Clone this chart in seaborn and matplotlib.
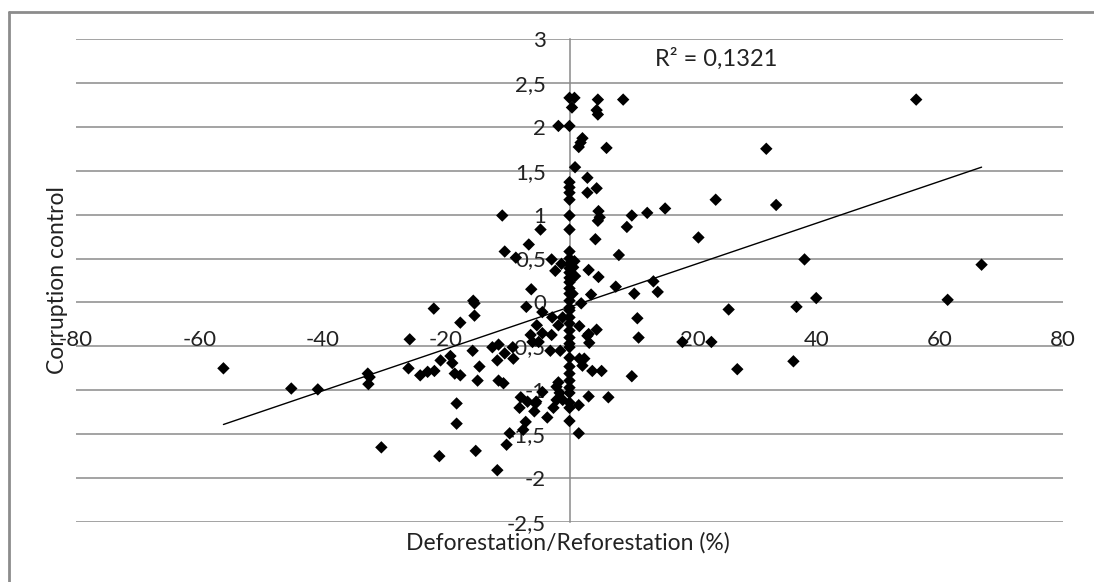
import matplotlib
matplotlib.use("Agg")
import matplotlib.pyplot as plt
import seaborn as sns
import pandas as pd
from matplotlib.lines import Line2D

# ---- data ----
deforestation = [
    0, 0.8, 0.4, 4.6, 4.4, 4.6, 8.7, 56.2,
    -1.8, 0, 2.1, 1.8, 1.5, 6.0, 31.9,
    0.9, 2.9, 0, 0, 0, 2.9, 4.4, 0,
    -10.9, 0, 4.7, 4.6, 4.9, 10.1, 12.6, 15.5, 23.7, 33.5,
    9.3, -4.7, 0, 4.2, 20.9,
    -6.6, -10.5, -8.7, 0, 8.0, 38.1, 66.8,
    -2.9, -1.3, -2.3, 3.1, 4.7,
    0, 0, 0, 0, 0, 0, 0, 0, 0, 0,
    0.8, 0.6, 0.9, 0.5,
    -6.2, 7.5, 13.6, 14.3, 10.5, 3.5, -15.6, 40.0, 61.3,
    25.8, 36.8, 23.0, 27.2, 36.3, 18.3,
    11.0, 11.2, 10.1, 6.3, 3.1, 1.5, 0,
    5.2, 3.7, 2.1, 2.4, 4.4, 3.1, 3.2, 1.6, 1.9, 2.9,
    0, 0, 0, 0, 0, 0, 0, 0, 0, 0, 0, 0, 0, 0, 0,
    -1.1, -1.8, -2.8, -1.1, -1.6, -2.1, -1.8, -2.6, -3.6, -4.4, -5.3, -7.0,
    -4.4, -2.9, -3.1, -1.5, -5.0, -6.0, -6.3, -9.1, -10.5, -11.7, -11.5, -12.5,
    -11.5, -10.7, -7.9, -6.8, -8.1, -5.5, -5.7, -7.1, -7.5, -9.7, -10.2, -11.7,
    -15.2, -21.1, -18.3, -18.3, -14.9, -14.6, -15.7, -17.7, -18.6, -19.0, -19.3,
    -20.9, -17.7, -15.4, -15.4, -22.0, -25.9, -26.1, -24.2, -23.0, -21.9, 1.5, 1.6,
    -56.1, -45.1, -40.8, -32.7, -32.4, -32.6, -30.5,
    -4.4, -2.1, -5.4, -9.2,
]
corruption = [
    2.33, 2.33, 2.22, 2.31, 2.19, 2.14, 2.31, 2.31,
    2.01, 2.01, 1.87, 1.82, 1.77, 1.76, 1.75,
    1.54, 1.42, 1.37, 1.31, 1.25, 1.25, 1.30, 1.17,
    0.99, 0.99, 1.04, 0.93, 0.97, 0.99, 1.02, 1.07, 1.17, 1.11,
    0.86, 0.83, 0.83, 0.72, 0.74,
    0.66, 0.58, 0.51, 0.58, 0.54, 0.49, 0.43,
    0.49, 0.44, 0.36, 0.37, 0.29,
    0.50, 0.44, 0.39, 0.34, 0.28, 0.23, 0.16, 0.10, 0.02, -0.06,
    0.47, 0.40, 0.30, 0.10,
    0.15, 0.18, 0.24, 0.12, 0.10, 0.09, 0.02, 0.05, 0.03,
    -0.08, -0.05, -0.45, -0.76, -0.67, -0.45,
    -0.18, -0.40, -0.84, -1.08, -1.07, -1.49, -1.35,
    -0.78, -0.78, -0.72, -0.64, -0.31, -0.36, -0.46, -0.27, -0.01, -0.38,
    -0.09, -0.17, -0.24, -0.32, -0.40, -0.47, -0.51, -0.63, -0.73, -0.81, -0.89,
    -0.97, -1.03, -1.14, -1.20,
    -0.17, -0.26, -0.17, -1.11, -1.03, -1.11, -0.91, -1.20, -1.31, -0.35, -0.26, -0.05,
    -0.11, -0.37, -0.55, -0.55, -0.45, -0.45, -0.37, -0.64, -0.58, -0.66, -0.48, -0.51,
    -0.89, -0.92, -1.08, -1.13, -1.20, -1.15, -1.24, -1.36, -1.45, -1.49, -1.62, -1.91,
    -1.69, -1.75, -1.15, -1.38, -0.89, -0.73, -0.55, -0.83, -0.81, -0.69, -0.61,
    -0.66, -0.23, -0.15, -0.01, -0.07, -0.42, -0.75, -0.83, -0.79, -0.78, -1.17, -0.64,
    -0.75, -0.98, -0.99, -0.81, -0.85, -0.93, -1.65,
    -1.02, -0.96, -1.13, -0.51,
]
x_ticks = [-80, -60, -40, -20, 0, 20, 40, 60, 80]
x_tick_labels = ["-80", "-60", "-40", "-20", "", "20", "40", "60", "80"]
y_ticks = [3, 2.5, 2, 1.5, 1, 0.5, 0, -0.5, -1, -1.5, -2, -2.5]
y_tick_labels = ["3", "2,5", "2", "1,5", "1", "0,5", "0", "-0,5", "-1", "-1,5", "-2", "-2,5"]
r2_text = "R² = 0,1321"
x_title = "Deforestation/Reforestation (%)"
y_title = "Corruption control"

df = pd.DataFrame({"x": deforestation, "y": corruption})

sns.set_theme(style="white")
plt.rcParams["font.family"] = ["Lato", "DejaVu Sans"]
plt.rcParams["axes.unicode_minus"] = False

W, H = 1094, 582
fig = plt.figure(figsize=(W / 100, H / 100), dpi=100)
fig.patch.set_facecolor("white")
ax = fig.add_axes([76 / W, 1 - 522 / H, (1063 - 76) / W, (522 - 39) / H])
ax.set_facecolor("white")

grid_c = "#8a8a8a"
for v in y_ticks:
    ax.axhline(v, color=grid_c, lw=1.1, zorder=0)

sns.regplot(data=df, x="x", y="y", ax=ax, scatter=False, ci=None,
            line_kws={"color": "black", "lw": 1.0, "zorder": 2})
sns.scatterplot(data=df, x="x", y="y", ax=ax, marker="D", color="black",
                edgecolor="none", s=40, zorder=3, legend=False)

ax.set_xlim(-80, 80)
ax.set_ylim(-2.5, 3)
ax.set_xlabel("")
ax.set_ylabel("")

for s in ["top", "right"]:
    ax.spines[s].set_visible(False)
ax.spines["left"].set_position(("data", 0))
ax.spines["left"].set_color(grid_c)
ax.spines["left"].set_linewidth(1.1)
ax.spines["left"].set_zorder(1)
ax.spines["bottom"].set_position(("data", 0))
ax.spines["bottom"].set_visible(False)

ax.set_xticks(x_ticks)
ax.set_xticklabels(x_tick_labels)
ax.set_yticks(y_ticks)
ax.set_yticklabels(y_tick_labels)
ax.tick_params(axis="both", length=0, labelsize=16, colors="#222222")
ax.tick_params(axis="y", pad=17)
ax.tick_params(axis="x", pad=19.5)

ax.text(13.8, 2.77, r2_text, fontsize=17, color="#222222", ha="left", va="center")

fig.text(568 / W, 1 - 543 / H, x_title, fontsize=16.5, color="#222222",
         ha="center", va="center")
fig.text(57 / W, 1 - 280 / H, y_title, fontsize=16.5, color="#222222",
         ha="center", va="center", rotation=90)

# outer chart frame (top and left edges visible)
fig.add_artist(Line2D([9 / W, 1.0], [1 - 12 / H, 1 - 12 / H], transform=fig.transFigure,
                      color="#8c8c8c", lw=2))
fig.add_artist(Line2D([9 / W, 9 / W], [0, 1 - 12 / H], transform=fig.transFigure,
                      color="#8c8c8c", lw=2))

fig.savefig("out.png", dpi=100, facecolor="white")
